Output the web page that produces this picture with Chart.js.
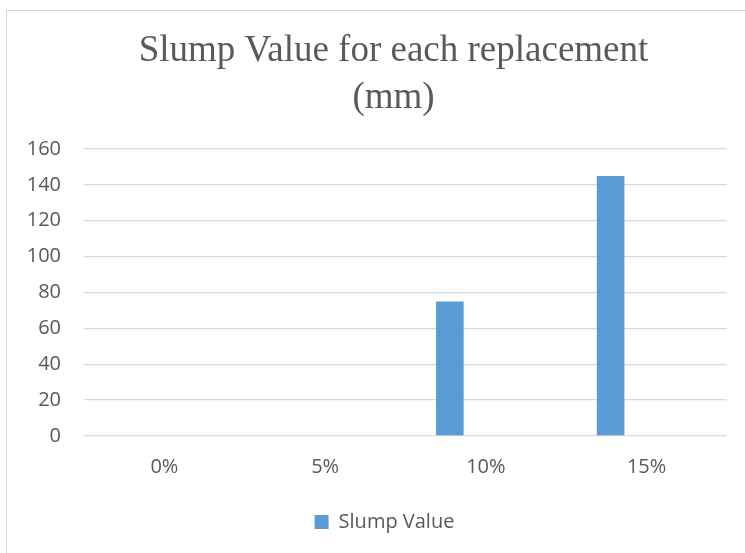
<!DOCTYPE html>
<html>
<head>
<meta charset="utf-8">
<script src="https://cdn.jsdelivr.net/npm/chart.js@4"></script>
<style>
  html, body { margin: 0; padding: 0; background: #fff; }
  body { width: 745px; height: 553px; position: relative; overflow: hidden; }
  #frame { position: absolute; left: 6px; top: 10px; width: 900px; height: 700px; border: 1px solid #d9d9d9; }
  #wrap { position: absolute; left: 0; top: 0; width: 745px; height: 553px; }
</style>
</head>
<body>
<div id="frame"></div>
<div id="wrap"><canvas id="slumpChart"></canvas></div>
<script>
// Data
const categories = ['0%', '5%', '10%', '15%'];
const slumpValues = [0, 0, 75, 145];
const emptySeries = [null, null, null, null]; // second, empty series in the source chart
const yTicks = [0, 20, 40, 60, 80, 100, 120, 140, 160];

const textGrey = '#595959';
const sansFont = '"Open Sans", sans-serif';

// title and legend sit a bit right of the canvas centre in the original
const nudgeBoxes = {
    id: 'nudgeBoxes',
    afterLayout(chart) {
        const t = chart.titleBlock, l = chart.legend;
        t.left += 20; t.right += 20;
        l.left += 11; l.right += 11;
    }
};

const config = {
    type: 'bar',
    data: {
        labels: categories,
        datasets: [{
            label: 'Slump Value',
            data: slumpValues,
            backgroundColor: '#5b9bd5',
            borderWidth: 0,
            categoryPercentage: 0.896,
            barPercentage: 0.383
        }, {
            label: '',
            data: emptySeries,
            backgroundColor: 'rgba(0,0,0,0)',
            categoryPercentage: 0.896,
            barPercentage: 0.383
        }]
    },
    options: {
        responsive: false,
        animation: false,
        layout: { padding: { left: 20, right: 18, top: 28, bottom: 11 } },
        plugins: {
            title: {
                display: true,
                text: ['Slump Value for each replacement', '(mm)'],
                color: textGrey,
                font: { family: '"Liberation Serif", "Times New Roman", serif', size: 37, weight: 'normal', lineHeight: 1.27 },
                padding: { top: 0, bottom: 27 }
            },
            legend: {
                position: 'bottom',
                labels: {
                    color: textGrey,
                    font: { family: sansFont, size: 20 },
                    boxWidth: 14,
                    boxHeight: 14,
                    padding: 14,
                    filter: item => item.text !== ''
                }
            },
            tooltip: { enabled: false }
        },
        scales: {
            x: {
                grid: { display: false, drawTicks: false },
                border: { display: false },
                ticks: {
                    color: textGrey,
                    font: { family: sansFont, size: 20 },
                    padding: 19
                }
            },
            y: {
                min: 0,
                max: 160,
                afterBuildTicks: scale => { scale.ticks = yTicks.map(v => ({ value: v })); },
                afterFit: scale => { scale.width = 64; },
                grid: { color: '#d9d9d9', lineWidth: 1.3, drawTicks: false },
                border: { display: false },
                ticks: {
                    color: textGrey,
                    font: { family: sansFont, size: 20 },
                    padding: 23
                }
            }
        }
    },
    plugins: [nudgeBoxes]
};

const canvas = document.getElementById('slumpChart');
canvas.width = 745;
canvas.height = 553;
const slumpChart = new Chart(canvas, config);
</script>
</body>
</html>
